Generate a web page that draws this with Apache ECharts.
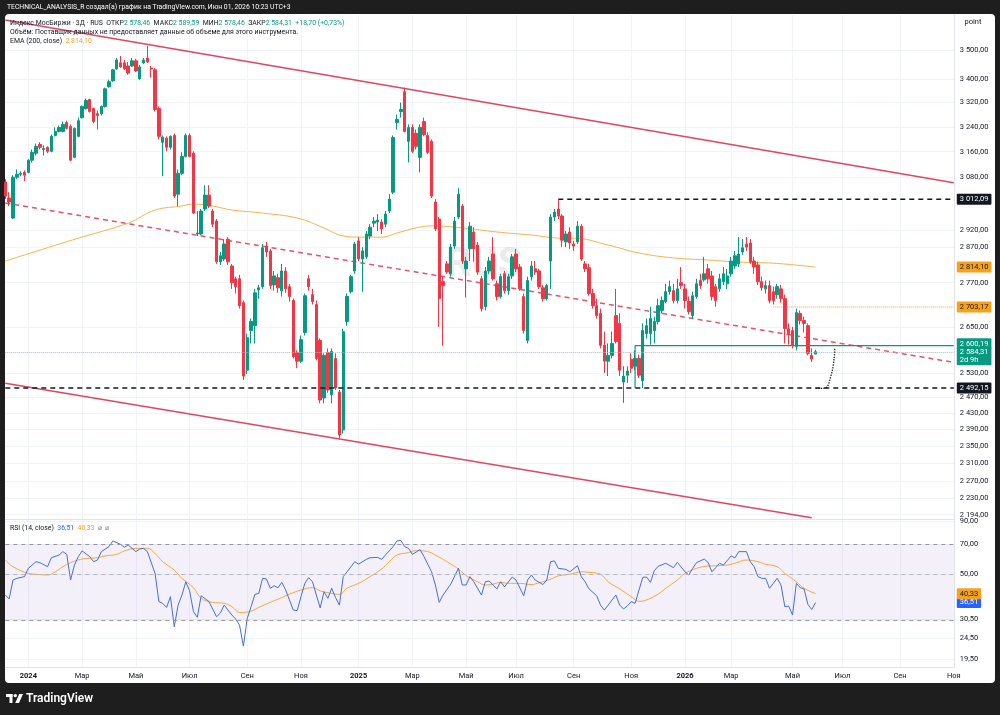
<!DOCTYPE html>
<html>
<head>
<meta charset="utf-8">
<script src="https://cdn.jsdelivr.net/npm/echarts@6/dist/echarts.min.js"></script>
<style>
html, body { margin: 0; padding: 0; background: #1e1e1e; }
#chart { width: 1000px; height: 715px; }
</style>
</head>
<body>
<div id="chart"></div>
<script>
// 3-дневные свечи (индекс 0 = первая видимая свеча)
var opens = [3065,3016,2956,3080,3089,3095,3095,3133,3155,3183,
  3167,3174,3161,3212,3225,3225,3254,3241,3142,3209,
  3270,3300,3330,3300,3283,3283,3307,3373,3393,3434,
  3455,3455,3444,3444,3462,3400,3455,3472,3437,3431,
  3300,3190,3203,3174,3212,3028,3092,3145,3212,3155,
  2909,2909,2983,3025,2977,2947,2829,2837,2894,2817,
  2781,2781,2715,2537,2640,2653,2750,2759,2874,2860,
  2764,2784,2748,2803,2759,2721,2582,2560,2635,2781,
  2737,2710,2614,2467,2582,2475,2567,2482,2389,2664,
  2745,2803,2889,2837,2843,2903,2941,2944,2944,2938,
  2977,3034,3254,3290,3356,3193,3238,3219,3142,3257,
  3212,3193,3004,2953,2773,2823,2795,2874,2959,2992,
  2809,2866,2915,2877,2781,2704,2803,2851,2767,2732,
  2795,2748,2789,2851,2814,2732,2614,2787,2809,2803,
  2756,2726,2831,2959,2983,2962,2886,2915,2880,2886,
  2932,2823,2812,2740,2707,2686,2601,2560,2575,2680,
  2659,2507,2524,2565,2547,2567,2510,2632,2632,2640,
  2664,2694,2718,2745,2748,2721,2770,2753,2718,2680,
  2732,2776,2778,2809,2789,2759,2753,2773,2767,2795,
  2817,2823,2857,2880,2883,2831,2820,2773,2753,2762,
  2745,2737,2753,2726,2645,2640,2598,2686,2667,2653,
  2575,2578.46];
var closes = [3022,3004,3080,3089,3092,3086,3133,3158,3177,3174,
  3170,3161,3209,3225,3238,3248,3235,3133,3235,3260,
  3307,3327,3290,3257,3277,3307,3366,3390,3431,3465,
  3441,3434,3420,3462,3427,3441,3465,3458,3434,3297,
  3209,3206,3174,3209,3022,3092,3145,3212,3145,2971,
  2912,2977,3025,2992,2938,2829,2846,2880,2829,2770,
  2759,2707,2522,2621,2664,2742,2756,2869,2857,2762,
  2789,2756,2803,2753,2732,2572,2560,2616,2734,2759,
  2718,2567,2462,2575,2487,2585,2492,2377,2637,2732,
  2787,2880,2837,2860,2909,2929,2947,2950,2924,2968,
  3013,3205,3264,3297,3225,3238,3161,3177,3238,3215,
  3158,3022,2924,2726,2762,2800,2871,2947,3028,2831,
  2831,2932,2866,2800,2699,2803,2831,2781,2732,2787,
  2748,2787,2843,2809,2753,2640,2776,2817,2800,2759,
  2726,2762,2959,2974,2962,2891,2909,2883,2874,2932,
  2837,2809,2740,2707,2680,2601,2560,2575,2606,2611,
  2537,2522,2535,2542,2567,2524,2640,2653,2672,2664,
  2707,2721,2745,2759,2721,2753,2762,2721,2691,2734,
  2767,2762,2795,2781,2732,2721,2781,2795,2789,2831,
  2846,2851,2869,2871,2829,2814,2773,2756,2762,2721,
  2721,2759,2726,2645,2632,2601,2688,2667,2659,2580,
  2565.61,2584.31];
var highs = [3074,3034,3086,3104,3098,3101,3136,3167,3186,3190,
  3180,3177,3215,3238,3244,3257,3260,3248,3238,3270,
  3310,3333,3333,3303,3293,3310,3370,3397,3434,3472,
  3479,3465,3458,3472,3469,3448,3472,3514,3444,3437,
  3307,3212,3209,3212,3218,3104,3158,3218,3218,3161,
  2977,2983,3055,3055,2983,2953,2857,2894,2900,2823,
  2787,2792,2721,2632,2672,2753,2764,2880,2886,2866,
  2803,2795,2823,2814,2767,2726,2588,2627,2740,2792,
  2753,2721,2619,2580,2593,2593,2580,2487,2645,2740,
  2792,2886,2900,2871,2918,2938,2959,2968,2953,2977,
  3028,3212,3280,3320,3370,3248,3248,3231,3248,3270,
  3222,3199,3013,2959,2789,2831,2880,2959,3046,2998,
  2843,2944,2929,2886,2789,2814,2843,2900,2776,2795,
  2803,2795,2851,2866,2823,2740,2787,2831,2831,2809,
  2764,2767,2968,2983,3012.09,2968,2918,2929,2889,2947,
  2938,2831,2823,2753,2726,2699,2637,2606,2637,2753,
  2686,2547,2547,2580,2588,2577,2659,2672,2704,2677,
  2726,2732,2767,2776,2767,2781,2814,2767,2732,2745,
  2781,2795,2843,2823,2803,2767,2795,2814,2809,2843,
  2860,2900,2894,2900,2894,2843,2829,2787,2776,2776,
  2759,2767,2764,2737,2659,2650,2699,2694,2677,2659,
  2593,2589.59];
var lows = [3013,2992,2953,3074,3083,3068,3092,3126,3148,3167,
  3148,3155,3158,3209,3222,3222,3231,3130,3139,3206,
  3267,3297,3287,3251,3231,3277,3303,3370,3390,3431,
  3438,3431,3414,3441,3424,3397,3451,3455,3404,3290,
  3199,3083,3161,3167,3016,2992,3086,3142,3142,2968,
  2903,2906,2977,2986,2929,2823,2820,2831,2820,2753,
  2740,2699,2512,2527,2606,2606,2726,2753,2843,2753,
  2748,2742,2732,2742,2718,2567,2542,2555,2627,2748,
  2710,2562,2454,2454,2480,2454,2487,2370,2380,2653,
  2740,2795,2831,2745,2837,2894,2929,2918,2909,2929,
  2971,3028,3231,3270,3222,3126,3155,3167,3095,3209,
  3152,3016,2918,2650,2600,2795,2787,2866,2953,2823,
  2729,2831,2829,2792,2691,2694,2795,2776,2721,2726,
  2740,2737,2781,2800,2748,2632,2606,2776,2792,2753,
  2718,2721,2753,2947,2953,2871,2871,2866,2860,2880,
  2831,2800,2734,2699,2672,2593,2530,2522,2567,2606,
  2522,2455,2505,2530,2537,2517,2492,2619,2603,2606,
  2656,2686,2713,2737,2713,2713,2753,2699,2683,2672,
  2726,2753,2773,2767,2721,2704,2745,2764,2753,2787,
  2809,2814,2849,2860,2823,2795,2764,2748,2740,2713,
  2710,2726,2715,2606,2603,2593,2588,2656,2635,2575,
  2558,2578.46];

var emaIdx = [0,19,32,39,46,49,54,59,67,76,83,87,92,98,102,107,111,119,128,137,145,148,157,165,174,183,191,200,211];
var emaVal = [2831,2897,2941,2980,2992,2998,2992,2980,2971,2956,2927,2906,2900,2900,2912,2927,2933,2927,2915,2906,2897,2897,2877,2854,2840,2834,2828,2825,2814.10];

// RSI(14) и его скользящая
var rsiIdx = [0,1,2,3,5,6,8,9,11,12,14,15,16,17,18,19,20,22,23,24,25,27,28,30,31,32,34,35,36,37,
  39,40,41,42,43,44,45,46,47,48,49,50,51,53,55,56,57,59,60,61,62,63,64,65,66,67,68,69,70,71,
  72,73,74,75,76,77,78,79,80,81,82,83,84,85,86,87,88,89,91,92,94,95,97,98,99,101,102,103,104,105,
  106,107,108,109,111,112,113,114,116,118,119,120,121,122,124,125,126,128,129,130,132,133,135,136,137,138,140,141,142,143,
  144,146,147,149,150,151,152,154,155,156,157,159,160,161,162,163,164,166,167,168,169,170,172,174,175,177,178,179,180,182,
  183,184,185,186,187,189,190,191,193,194,195,196,197,198,199,200,201,202,203,204,205,206,207,208,209,210,211];
var rsiVal = [39.7,38.0,46.9,47.8,48.7,53.4,57.5,56.9,54.4,60.1,61.9,64.3,62.4,46.9,55.4,60.8,64.8,60.8,57.5,58.6,64.3,68.0,72.4,69.7,67.5,69.2,64.3,66.2,66.7,64.3,
  50.5,36.9,36.2,34.6,39.0,27.9,35.5,39.7,46.0,41.6,33.0,31.0,39.4,37.0,31.2,32.5,35.5,31.8,30.4,28.4,22.5,30.6,34.9,40.0,40.4,47.8,47.5,42.8,44.0,43.0,
  45.7,42.0,37.6,33.6,33.4,39.0,45.2,48.2,46.0,39.7,34.4,41.2,38.3,42.8,38.6,35.5,48.7,51.4,57.5,56.0,59.0,60.1,60.3,59.0,61.9,68.0,72.4,72.9,68.0,66.7,
  62.4,64.0,65.8,61.0,51.4,44.4,36.6,39.7,44.8,53.4,44.4,44.4,48.7,46.0,39.7,46.0,46.4,42.5,46.0,43.5,48.5,46.9,39.4,46.9,49.6,46.9,44.6,46.9,57.5,58.0,
  53.4,52.8,51.4,55.0,48.7,46.0,42.5,39.4,35.5,33.6,35.5,39.7,35.5,34.0,35.2,36.9,36.2,48.3,48.5,45.7,52.0,54.6,56.5,53.8,57.1,51.4,49.6,53.4,56.9,59.2,
  57.1,51.4,53.8,56.5,55.4,61.3,60.0,64.3,64.3,57.5,54.4,48.7,47.8,47.8,42.8,45.2,47.8,44.4,34.9,35.1,31.8,45.2,43.1,42.5,35.8,33.8,36.51];
var maIdx = [0,2,6,8,11,13,15,17,19,21,24,26,29,31,34,37,39,41,44,46,49,51,54,57,59,61,64,66,69,72,74,77,80,82,85,87,89,92,95,98,100,102,105,107,110,112,115,118,120,123,125,127,129,
  131,134,137,139,142,144,147,150,152,155,157,160,163,165,167,170,172,175,177,180,183,185,188,190,193,196,198,201,203,206,208,211];
var maVal = [58.6,54.4,50.5,50.0,49.6,51.4,54.4,56.9,58.6,59.6,60.1,61.3,62.4,64.8,66.7,66.7,63.0,57.5,52.4,47.8,43.1,38.3,36.6,36.2,34.9,32.7,33.2,34.6,36.6,38.6,40.1,42.0,43.1,41.6,40.4,40.0,42.8,45.2,48.7,53.0,57.5,61.9,63.6,65.0,64.3,61.9,57.5,53.0,49.3,46.0,44.4,44.8,45.7,
  45.2,45.2,44.6,45.5,47.3,49.1,50.0,51.4,51.1,50.0,46.0,42.5,39.0,37.0,37.6,40.1,42.8,46.9,50.5,53.4,54.8,55.0,55.4,56.5,58.6,57.5,55.9,54.4,50.5,46.0,42.8,40.33];

// метки временной шкалы (индекс свечи -> подпись)
var tickIdx = [6,20,34,48,63,77,92,106,120,133,148,163,177,189,205,218,233,247];
var tickLbl = ['2024','Мар','Май','Июл','Сен','Ноя','2025','Мар','Май','Июл','Сен','Ноя','2026','Мар','Май','Июл','Сен','Ноя'];
var priceTicks = [3500,3400,3320,3240,3160,3080,2920,2870,2770,2650,2530,2470,2430,2390,2350,2310,2270,2230,2194];
var rsiTicks = [90,70,50,30.5,24.5,19.5];

// уровни
var lvl3012 = 3012.09, lvl2814 = 2814.10, lvl2703 = 2703.17, lvl2600 = 2600.19, lvl2584 = 2584.31, lvl2492 = 2492.15;
var upperLine = [[0, 3607], [247, 3063]];
var lowerLine = [[0, 2504], [210, 2187]];
var midLine = [[0, 3001], [247, 2557]];
var arrowPath = [[211, 2491], [213, 2491], [215, 2522], [216, 2594]];

var N = 248;
var cats = [];
for (var i = 0; i < N; i++) cats.push(String(i));
var tickText = {};
tickIdx.forEach(function (k, j) { tickText[k] = tickLbl[j]; });

var candles = opens.map(function (o, i) { return [o, closes[i], lows[i], highs[i]]; });
var ema = emaIdx.map(function (k, j) { return [k, emaVal[j]]; });
var rsi = rsiIdx.map(function (k, j) { return [k, rsiVal[j]]; });
var rsiMa = maIdx.map(function (k, j) { return [k, maVal[j]]; });

function fmt(v) {
  var p = Number(v).toFixed(2).split('.');
  p[0] = p[0].replace(/\B(?=(\d{3})+(?!\d))/g, ' ');
  return p.join(',');
}
var FONT = 'Roboto, "Noto Sans", sans-serif';
var GREEN = '#089981', RED = '#f23645', ORANGE = '#f7a21b', BLUE = '#2962ff';

function badge(bg, fg, text, extra) {
  var o = { show: true, position: 'end', distance: 3, formatter: text, backgroundColor: bg, color: fg,
    padding: [2, 3, 1, 3], fontSize: 7.5, fontFamily: FONT, borderRadius: 1 };
  for (var k in extra) o[k] = extra[k];
  return o;
}
function xAx(gi, labels) {
  return {
    type: 'category', gridIndex: gi, data: cats, boundaryGap: false,
    axisLine: { show: true, lineStyle: { color: '#e0e3eb' } },
    axisTick: { show: false },
    axisLabel: {
      show: labels, margin: 5, color: '#131722', fontSize: 7.5, fontFamily: FONT,
      interval: function (i) { return tickText[i] !== undefined; },
      formatter: function (v) {
        var t = tickText[+v] || '';
        return /^\d+$/.test(t) ? '{y|' + t + '}' : t;
      },
      rich: { y: { fontWeight: 'bold', fontSize: 7.5, color: '#131722', fontFamily: FONT } }
    },
    splitLine: { show: true, interval: function (i) { return tickText[i] !== undefined; }, lineStyle: { color: '#f0f3fa' } }
  };
}
function yAx(gi, min, max, ticks) {
  return {
    type: 'log', logBase: 10, gridIndex: gi, position: 'right', min: min, max: max,
    axisLine: { show: true, lineStyle: { color: '#e0e3eb' } },
    axisTick: { show: false, customValues: ticks },
    axisLabel: { customValues: ticks, formatter: fmt, color: '#131722', fontSize: 7.5, fontFamily: FONT, margin: 6 },
    splitLine: { show: true, lineStyle: { color: '#f0f3fa' } }
  };
}
function seg(data, color, width, type, z) {
  return { type: 'line', xAxisIndex: 0, yAxisIndex: 0, data: data, symbol: 'none', silent: true, z: z || 3,
    lineStyle: { color: color, width: width, type: type } };
}

var chart = echarts.init(document.getElementById('chart'));
var option = {
  animation: false,
  backgroundColor: '#1e1e1e',
  textStyle: { fontFamily: FONT },
  grid: [
    { left: 5.3, right: 46.2, top: 15, height: 504 },
    { left: 5.3, right: 46.2, top: 519, height: 148 }
  ],
  xAxis: [xAx(0, false), xAx(1, true)],
  yAxis: [yAx(0, 2184.5, 3625.3, priceTicks), yAx(1, 17.85, 92.4, rsiTicks)],
  graphic: [
    { type: 'rect', z: -10, silent: true, shape: { x: 5, y: 14, width: 990, height: 669, r: 4 }, style: { fill: '#ffffff' } },
    { type: 'text', z: 100, x: 7, y: 7, style: { text: 'TECHNICAL_ANALYSIS_R создал(а) график на TradingView.com, Июн 01, 2026 10:23 UTC+3',
      fill: '#ffffff', font: '6.8px ' + FONT, verticalAlign: 'middle' } },
    { type: 'text', z: 100, x: 10, y: 23, style: {
      text: 'Индекс МосБиржи · 3Д · RUS  ОТКР{v|2 578,46}  МАКС{v|2 589,59}  МИН{v|2 578,46}  ЗАКР{v|2 584,31}  {v|+18,70 (+0,73%)}',
      fill: '#131722', font: '6.9px ' + FONT, verticalAlign: 'middle', rich: { v: { fill: GREEN, fontSize: 6.9, fontFamily: FONT } } } },
    { type: 'text', z: 100, x: 10, y: 32, style: { text: 'Объём: Поставщик данных не предоставляет данные об объеме для этого инструмента.',
      fill: '#131722', font: '6.9px ' + FONT, verticalAlign: 'middle' } },
    { type: 'text', z: 100, x: 10, y: 41, style: { text: 'EMA (200, close)  {o|2 814,10}',
      fill: '#131722', font: '6.9px ' + FONT, verticalAlign: 'middle', rich: { o: { fill: ORANGE, fontSize: 6.9, fontFamily: FONT } } } },
    { type: 'text', z: 100, x: 10, y: 528, style: { text: 'RSI (14, close)  {b|36,51}  {o|40,33}  {g|⌀  ⌀}',
      fill: '#131722', font: '6.9px ' + FONT, verticalAlign: 'middle',
      rich: { b: { fill: BLUE, fontSize: 6.9, fontFamily: FONT }, o: { fill: ORANGE, fontSize: 6.9, fontFamily: FONT }, g: { fill: '#787b86', fontSize: 6.9, fontFamily: FONT } } } },
    { type: 'text', z: 100, x: 973, y: 22, style: { text: 'point', fill: '#131722', font: '7.5px ' + FONT, align: 'center', verticalAlign: 'middle' } },
    { type: 'text', z: 1, x: 484, y: 266, silent: true, style: { text: 'RUS', fill: 'rgba(150,155,165,0.2)', font: 'bold 40px ' + FONT, align: 'center', verticalAlign: 'middle' } },
    // логотип TradingView
    { type: 'rect', z: 100, shape: { x: 6, y: 694, width: 6.5, height: 3 }, style: { fill: '#ffffff' } },
    { type: 'rect', z: 100, shape: { x: 9.5, y: 694, width: 3, height: 9 }, style: { fill: '#ffffff' } },
    { type: 'circle', z: 100, shape: { cx: 15.3, cy: 695.6, r: 1.7 }, style: { fill: '#ffffff' } },
    { type: 'polygon', z: 100, shape: { points: [[15.2, 703], [19.2, 694], [23, 694], [19, 703]] }, style: { fill: '#ffffff' } },
    { type: 'text', z: 100, x: 26, y: 699, style: { text: 'TradingView', fill: '#ffffff', font: '600 12px ' + FONT, verticalAlign: 'middle' } }
  ],
  series: [
    {
      type: 'candlestick', xAxisIndex: 0, yAxisIndex: 0, data: candles, barWidth: 2.9, z: 4,
      itemStyle: { color: GREEN, color0: RED, borderColor: GREEN, borderColor0: RED, borderWidth: 1 },
      markLine: {
        silent: true, symbol: 'none', animation: false,
        data: [
          { yAxis: lvl2492, lineStyle: { color: '#131722', width: 1.5, type: [5, 4] },
            label: badge('#131722', '#ffffff', fmt(lvl2492)) },
          { yAxis: lvl2584, lineStyle: { color: '#b2b5be', width: 1, type: 'dotted' },
            label: badge(GREEN, '#ffffff', fmt(lvl2584) + '\n2d 9h', { lineHeight: 7.5, padding: [1, 3, 2, 3], offset: [0, 4.5] }) }
        ]
      }
    },
    {
      type: 'line', xAxisIndex: 0, yAxisIndex: 0, data: ema, smooth: 0.4, symbol: 'none', z: 3,
      lineStyle: { color: '#f5b54a', width: 1 },
      markLine: { silent: true, symbol: 'none', data: [
        { yAxis: lvl2814, lineStyle: { width: 0, color: 'transparent' }, label: badge(ORANGE, '#131722', fmt(lvl2814)) }
      ] }
    },
    seg(upperLine, '#e0475e', 1.5, 'solid'),
    seg(lowerLine, '#e0475e', 1.5, 'solid'),
    seg(midLine, '#e0566b', 1.5, [5, 4]),
    Object.assign(seg([[144, lvl3012], [247, lvl3012]], '#131722', 1.5, [5, 4]),
      { endLabel: badge('#131722', '#ffffff', fmt(lvl3012)) }),
    Object.assign(seg([[200, lvl2703], [247, lvl2703]], ORANGE, 1, 'dotted'),
      { endLabel: badge(ORANGE, '#131722', fmt(lvl2703)) }),
    Object.assign(seg([[164, lvl2492], [164, lvl2600], [247, lvl2600]], GREEN, 1.2, 'solid'),
      { endLabel: badge(GREEN, '#ffffff', fmt(lvl2600), { offset: [0, -2], padding: [2, 3, 1, 3] }) }),
    {
      type: 'line', xAxisIndex: 0, yAxisIndex: 0, smooth: 0.5, silent: true, z: 5,
      data: arrowPath.map(function (p, j) {
        return j === arrowPath.length - 1 ? { value: p, symbol: 'arrow', symbolSize: [6, 6], itemStyle: { color: '#131722' } } : { value: p, symbol: 'none' };
      }),
      showSymbol: true, lineStyle: { color: '#131722', width: 1.3, type: 'dotted' }
    },
    {
      type: 'line', xAxisIndex: 1, yAxisIndex: 1, data: rsi, symbol: 'none', z: 4,
      lineStyle: { color: '#4670d8', width: 1 },
      markArea: { silent: true, itemStyle: { color: 'rgba(126,87,194,0.09)' }, data: [[{ yAxis: 70 }, { yAxis: 30 }]] },
      markLine: { silent: true, symbol: 'none', data: [
        { yAxis: 70, lineStyle: { color: '#9598a1', width: 1, type: [4, 4] }, label: { show: false } },
        { yAxis: 50, lineStyle: { color: '#b2b5be', width: 1, type: [4, 4] }, label: { show: false } },
        { yAxis: 30, lineStyle: { color: '#9598a1', width: 1, type: [4, 4] }, label: { show: false } },
        { yAxis: 36.51, lineStyle: { width: 0, color: 'transparent' }, label: badge(BLUE, '#ffffff', '36,51') }
      ] }
    },
    {
      type: 'line', xAxisIndex: 1, yAxisIndex: 1, data: rsiMa, smooth: 0.4, symbol: 'none', z: 3,
      lineStyle: { color: '#f5a93b', width: 1 },
      markLine: { silent: true, symbol: 'none', data: [
        { yAxis: 40.33, lineStyle: { width: 0, color: 'transparent' }, label: badge(ORANGE, '#131722', '40,33') }
      ] }
    }
  ]
};
chart.setOption(option);
</script>
</body>
</html>
